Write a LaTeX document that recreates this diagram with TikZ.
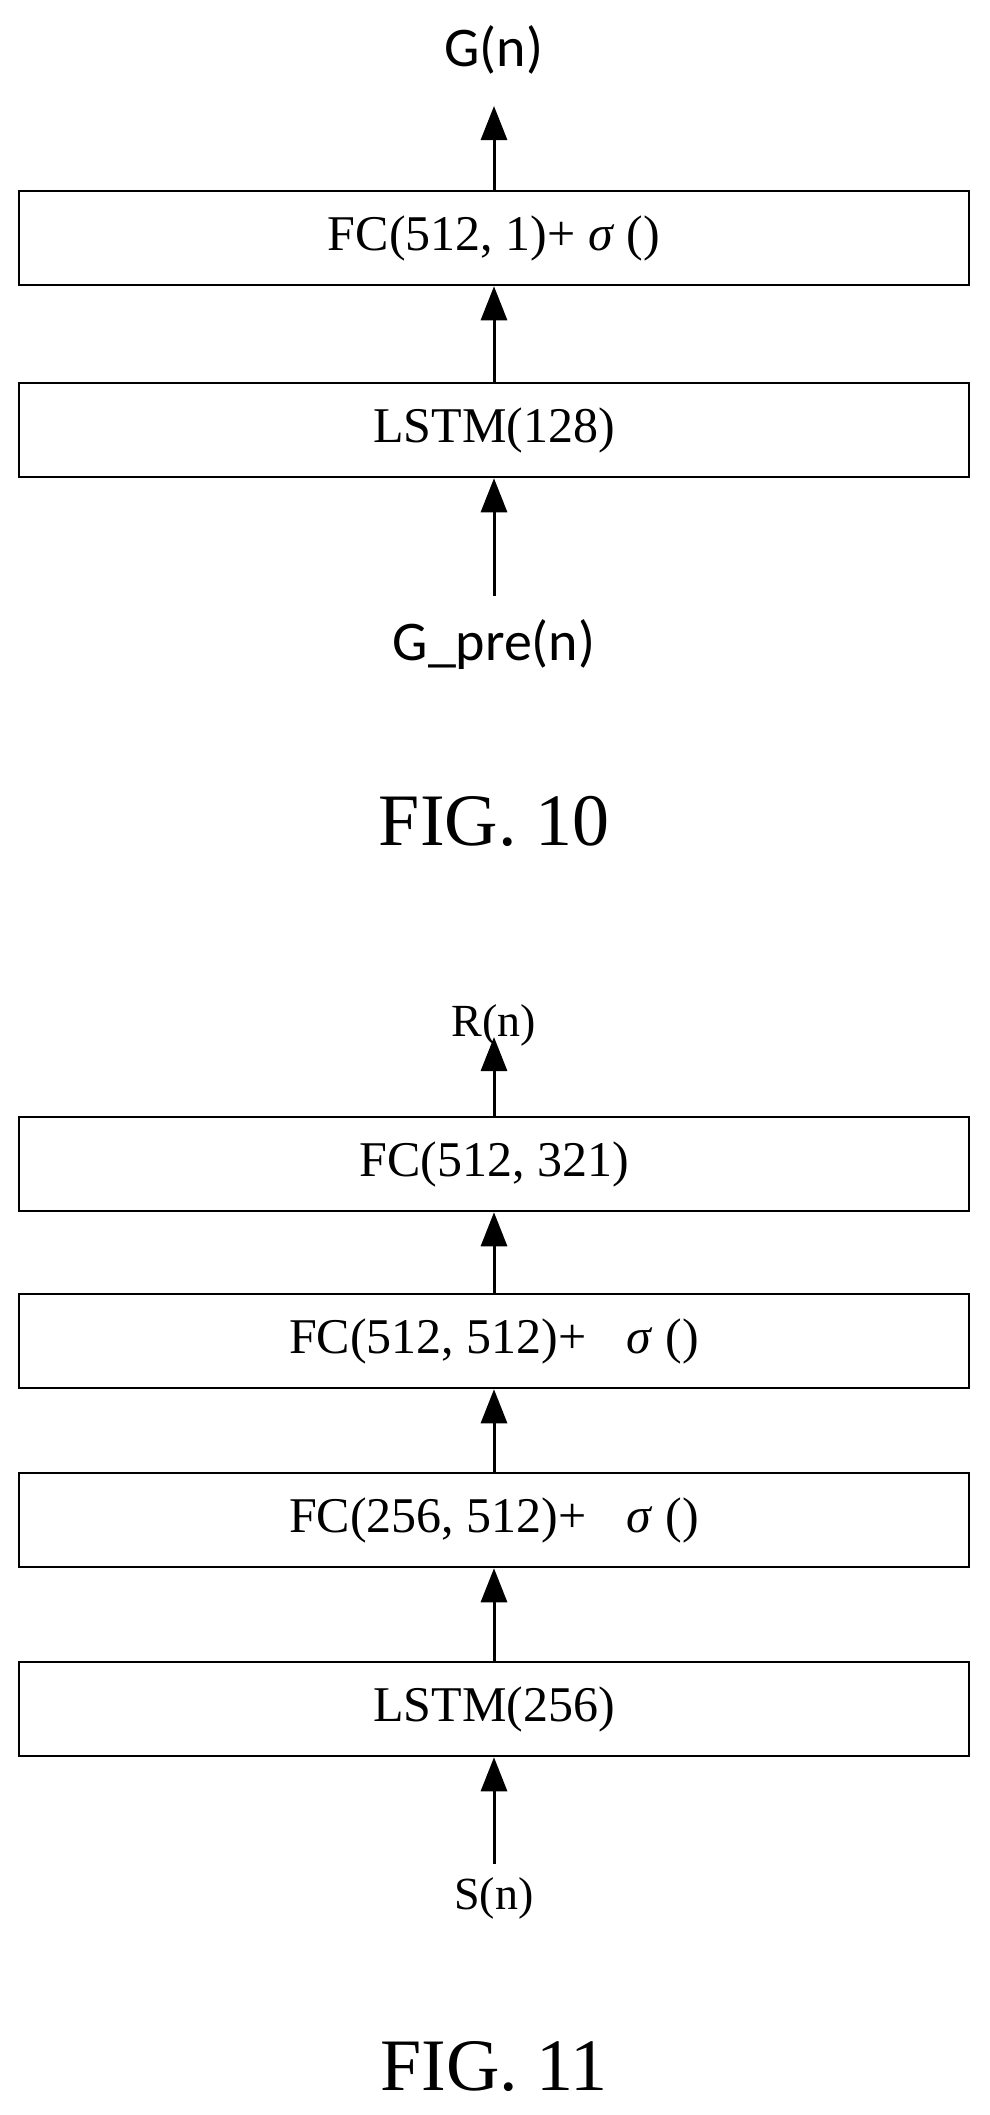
\documentclass[tikz,border=0pt]{standalone}
\usepackage{fontspec}
\setmainfont{Liberation Serif}
\newfontfamily\lbl{Carlito}
\usetikzlibrary{arrows.meta}
\begin{document}
\begin{tikzpicture}[x=1pt,y=-1pt,
  blk/.style={draw,line width=2.5pt,minimum width=950pt,minimum height=94pt,inner sep=0pt,font=\fontsize{50}{54}\selectfont},
  arr/.style={line width=3pt,-{Triangle[length=34pt,width=26pt]}},
  sl/.style={font=\lbl\fontsize{56}{60}\selectfont},
  tl/.style={font=\fontsize{46}{50}\selectfont},
  fig/.style={font=\fontsize{74}{78}\selectfont}]
\useasboundingbox (0,0) rectangle (989,2115);
\node[sl] (gn) at (494,50) {G(n)};
\coordinate (gtop) at (494,106);
\node[blk] (a1) at (494,238) {FC(512, 1)+ \textit{σ} ()};
\node[blk] (a2) at (494,430) {LSTM(128)};
\coordinate (gbot) at (494,596);
\node[sl] (gp) at (494,645) {G\_pre(n)};
\node[fig] (f10) at (494,821) {FIG. 10};
\draw[arr] (a1.north) -- (gtop);
\draw[arr] (a2.north) -- (a1.south);
\draw[arr] (gbot) -- (a2.south);
\node[tl] (rn) at (494,1025) {R(n)};
\coordinate (rtop) at (494,1037);
\node[blk] (b1) at (494,1164) {FC(512, 321)};
\node[blk] (b2) at (494,1341) {FC(512, 512)+\hspace{0.8em}\textit{σ} ()};
\node[blk] (b3) at (494,1520) {FC(256, 512)+\hspace{0.8em}\textit{σ} ()};
\node[blk] (b4) at (494,1709) {LSTM(256)};
\coordinate (sbot) at (494,1864);
\node[tl] (sn) at (494,1898) {S(n)};
\node[fig] (f11) at (494,2066) {FIG. 11};
\draw[arr] (b1.north) -- (rtop);
\draw[arr] (b2.north) -- (b1.south);
\draw[arr] (b3.north) -- (b2.south);
\draw[arr] (b4.north) -- (b3.south);
\draw[arr] (sbot) -- (b4.south);
\end{tikzpicture}
\end{document}
